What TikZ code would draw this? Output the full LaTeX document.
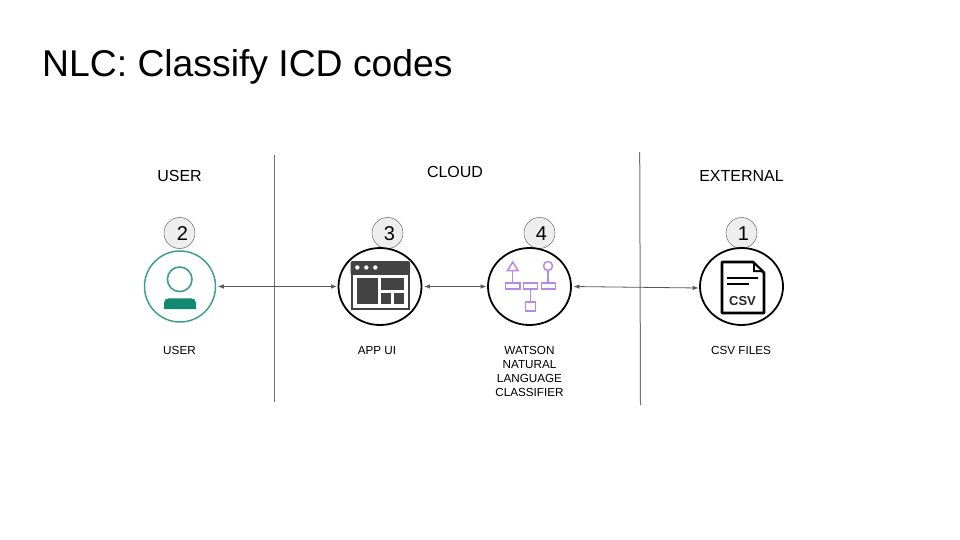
\documentclass[tikz,border=0pt]{standalone}
\usepackage{fontspec}
\setmainfont{Liberation Sans}
\usetikzlibrary{arrows.meta,shapes.geometric}
\definecolor{badgefill}{HTML}{EEEEEE}
\definecolor{badgeline}{HTML}{666666}
\definecolor{conn}{HTML}{595959}
\definecolor{rule}{HTML}{707070}
\definecolor{tealdark}{HTML}{128A72}
\definecolor{teallight}{HTML}{3F9F8A}
\definecolor{icongray}{HTML}{434343}
\definecolor{purp}{HTML}{B48AE6}
\tikzset{
  x=1pt,y=-1pt,
  ring/.style={ellipse,draw=black,line width=1.8pt,fill=white,inner sep=0pt,minimum width=83pt,minimum height=77pt},
  badge/.style={circle,draw=badgeline,line width=.5pt,fill=badgefill,inner sep=0pt,minimum size=31pt},
  digit/.style={inner sep=0pt,font=\fontsize{20}{20}\selectfont,text=black},
  heading/.style={font=\fontsize{16}{16}\selectfont,inner sep=0pt},
  caption/.style={font=\fontsize{11.7}{14}\selectfont,inner sep=0pt,align=center},
  link/.style={draw=conn,line width=.8pt,{Latex[length=6pt,width=4.5pt]}-{Latex[length=6pt,width=4.5pt]},shorten <=1.5pt,shorten >=0.5pt},
  divider/.style={draw=rule,line width=1pt},
  purpbox/.style={draw=purp,line width=1.5pt},
}
\begin{document}
\begin{tikzpicture}
\useasboundingbox (0,0) rectangle (960,540);
\node[anchor=west,inner sep=0pt,font=\fontsize{37.3}{37.3}\selectfont] (title) at (42,67) {NLC: Classify ICD codes};

% dividers
\coordinate (d1a) at (274.5,155); \coordinate (d1b) at (274.5,402);
\coordinate (d2a) at (639.7,152); \coordinate (d2b) at (640.5,405);
\draw[divider] (d1a) -- (d1b);
\draw[divider] (d2a) -- (d2b);

% headings
\node[heading] (hUser) at (179.5,176) {USER};
\node[heading] (hCloud) at (455,172) {CLOUD};
\node[heading] (hExt) at (741.5,176) {EXTERNAL};

% badges
\node[badge] (b2) at (179.5,233) {};
\node[badge] (b3) at (387.5,233) {};
\node[badge] (b4) at (539.5,233) {};
\node[badge] (b1) at (741.5,233) {};
\node[digit] (n2) at (182.5,233.5) {2};
\node[digit] (n3) at (389.5,233.5) {3};
\node[digit] (n4) at (541.5,233.5) {4};
\node[digit] (n1) at (743.5,233.5) {1};

% main circles
\node[circle,draw=teallight,line width=1.5pt,fill=white,inner sep=0pt,minimum size=71pt] (user) at (180,286.5) {};
\node[ring] (app) at (380,286.5) {};
\node[ring] (nlc) at (529.5,286.5) {};
\node[ring] (csv) at (741.5,286.5) {};

% connectors
\draw[link] (user.east) -- (app.west);
\draw[link] (app.east) -- (nlc.west);
\draw[link] (nlc.east) -- ([yshift=-1.5pt]csv.west);

% person icon
\draw[teallight,line width=1.6pt] (179.7,279.3) circle (12.3);
\fill[tealdark] (164,309) -- (164,303) .. controls (164,300) and (166,298.3) .. (169,298.3) -- (191,298.3) .. controls (194,298.3) and (196,300) .. (196,303) -- (196,309) -- cycle;

% app window icon
\fill[icongray,rounded corners=2pt] (350.5,261) rectangle (410,275);
\fill[icongray] (350.5,270) rectangle (410,310);
\fill[white] (352.5,274.5) rectangle (408,308);
\fill[white] (357.3,267.5) circle (2.2) (366.3,267.5) circle (2.2) (375.3,267.5) circle (2.2);
\fill[icongray] (357.3,277.7) rectangle (378.3,304);
\fill[icongray] (380.7,277.7) rectangle (404,290);
\fill[icongray] (380.7,293) rectangle (391,304);
\fill[icongray] (394,293) rectangle (404,304);

% classifier icon
\draw[purpbox] (512.5,270.5) -- (512.5,283);
\draw[purpbox] (507.5,270.5) -- (518,270.5) -- (512.7,262) -- cycle;
\draw[purpbox] (548,266) circle (4.5);
\draw[purpbox] (548,270.5) -- (548,283);
\draw[purpbox] (505.5,283) rectangle (520,289);
\draw[purpbox] (523.5,283) rectangle (537.5,289);
\draw[purpbox] (541.5,283) rectangle (555.5,289);
\draw[purpbox] (530.5,289) -- (530.5,302);
\draw[purpbox] (525.5,302) rectangle (535.5,311);

% csv icon
\draw[black,line width=2.8pt,line join=round] (722,262) -- (753,262) -- (764,273) -- (764,313) -- (722,313) -- cycle;
\fill[black] (753,261) -- (753,272) -- (765,272) -- cycle;
\fill[white] (755,265.5) -- (755,270) -- (760,270) -- cycle;
\draw[black,line width=2.2pt] (727,277.7) -- (758,277.7);
\draw[black,line width=2.2pt] (727,284.3) -- (748.5,284.3);
\node[inner sep=0pt,font=\fontsize{13}{13}\selectfont\bfseries,text=black!85] (csvtxt) at (742.5,301) {CSV};

% captions
\node[caption] (cUser) at (179.5,350) {USER};
\node[caption] (cApp) at (377,350.5) {APP UI};
\node[caption,anchor=north] (cNlc) at (529.5,346.5) {WATSON\\NATURAL\\LANGUAGE\\CLASSIFIER};
\node[caption] (cCsv) at (741,350.5) {CSV FILES};
\end{tikzpicture}
\end{document}
